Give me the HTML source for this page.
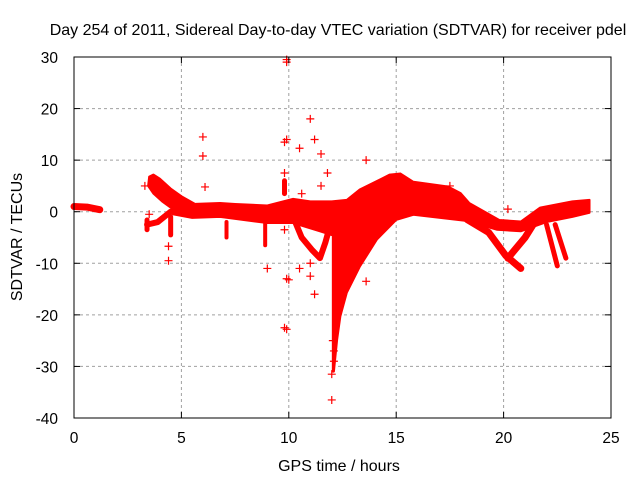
<!DOCTYPE html>
<html><head><meta charset="utf-8"><style>
body{margin:0;background:#fff}
svg{display:block;font-family:"Liberation Sans",sans-serif}
</style></head><body>
<svg id="c" width="640" height="480">
<text x="338" y="35" text-anchor="middle" font-size="16" fill="#000">Day 254 of 2011, Sidereal Day-to-day VTEC variation (SDTVAR) for receiver pdel</text>
<text x="339" y="471" text-anchor="middle" font-size="16">GPS time / hours</text>
<text transform="translate(22,237) rotate(-90)" text-anchor="middle" font-size="16">SDTVAR / TECUs</text>
<g id="grid"></g><g id="marks"></g><g id="axes"></g>
</svg>
<script>
const xTicks=[0,5,10,15,20,25];
const yTicks=[30,20,10,0,-10,-20,-30,-40];
const mainTimes=[4.6,5.5,6.8,7.5,9,10.2,11,12,12.7,13.3,14.7,15.2,15.8,17.4,18,18.4,19.8,20.8,21.7,23.2,24,
 24,23.2,22,20.8,19.7,18.3,15.8,15,14.1,13.3,12.7,12.4,12.25,12.1,12.05,12.05,11.45,10.2,9,6.8,5.5,4.6];
const mainValues=[2.5,1.5,1.7,1.5,1.2,2.5,2,2,2.3,4.3,7.2,7.4,5.8,4.9,3.6,1.7,-1.6,-1.9,0.8,2,2.3,
 -0.2,-1,-2,-3.8,-3.5,-1.8,-0.6,-1.6,-5.4,-10.7,-15.7,-20.3,-24.8,-31,-31,-4.6,-3.8,-2.2,-2.2,-1,-1.2,-0.5];
const armTimes=[3.45,3.5,3.7,4.0,4.5,5,5.6,5.2,4.6,4.1,3.7];
const armValues=[5,6.8,7.2,6.4,4.5,3,1.6,0.8,0.5,2,3.5];
const trackTimes=[
 [0,0.6,1.2],
 [3.4,3.9,4.5],
 [3.4,3.4],
 [4.5,4.5],
 [7.1,7.1],
 [8.9,8.9],
 [10.2,10.6,11.1,11.45,11.7,11.9],
 [9.8,9.8],
 [18.3,19.3,20.1,20.8],
 [20.2,21,21.6],
 [22,22.5],
 [22.4,22.9]
];
const trackValues=[
 [1,0.9,0.4],
 [-2.5,-2,0],
 [-1.6,-3.5],
 [-1,-4.5],
 [-2,-5],
 [-1,-6.5],
 [-1,-5,-7.5,-9,-6,-3],
 [3.5,6],
 [-1.5,-4,-8.5,-11],
 [-9,-5,-1],
 [-2.5,-10.5],
 [-2.5,-9]
];
const trackWidths=[7,6,5,5,4,4,6,5,7,7,5,5];
const outTimes=[6,6,6.1,3.3,4.4,4.4,9,9.8,9.9,9.9,9.9,9.8,9.9,9.9,10,10.5,11,11.2,11.5,11.2,11,10.5,11,12,12,13.6,13.6,17.5,20.2,9.8,11.5,10.6,3.5,9.8,11.8,12.1,12.1,12.05];
const outValues=[14.5,10.8,4.8,5,-6.7,-9.5,-11,13.5,14,29,29.5,-22.5,-22.8,-13,-13.2,12.3,18,14,11.2,-16,-12.5,-11,-10,-36.5,-31.5,10,-13.5,5,0.5,-3.5,5,3.5,-0.5,7.5,7.5,-27,-29,-25];
const X0=74,X1=611,Y0=418,Y1=57;
const sx=v=>X0+(v-0)/(25-0)*(X1-X0);
const sy=v=>Y0-(v+40)/(70)*(Y0-Y1);
const NS='http://www.w3.org/2000/svg';
function mk(t,p,a){const e=document.createElementNS(NS,t);for(const k in a)e.setAttribute(k,a[k]);p.appendChild(e);return e;}
const grid=document.getElementById('grid'),marks=document.getElementById('marks'),axes=document.getElementById('axes');
xTicks.forEach(t=>{
 if(t>0&&t<25){const g=mk('line',grid,{x1:sx(t),x2:sx(t),y1:Y1,y2:Y0,stroke:'#a0a0a0','stroke-dasharray':'3,3'});
 
 }
 const l=mk('text',axes,{x:sx(t),y:Y0+25,'text-anchor':'middle','font-size':15.5});l.textContent=t;
 
 
 mk('line',axes,{x1:sx(t),x2:sx(t),y1:Y0,y2:Y0-6,stroke:'#000'});
 mk('line',axes,{x1:sx(t),x2:sx(t),y1:Y1,y2:Y1+6,stroke:'#000'});
});
yTicks.forEach(t=>{
 if(t>-40&&t<30){const g=mk('line',grid,{x1:X0,x2:X1,y1:sy(t),y2:sy(t),stroke:'#a0a0a0','stroke-dasharray':'3,3'});
 
 }
 const l=mk('text',axes,{x:X0-16,y:sy(t)+6,'text-anchor':'end','font-size':15.5});l.textContent=t;
 
 
 mk('line',axes,{x1:X0,x2:X0+6,y1:sy(t),y2:sy(t),stroke:'#000'});
 mk('line',axes,{x1:X1,x2:X1-6,y1:sy(t),y2:sy(t),stroke:'#000'});
});
const fr=mk('rect',axes,{x:X0,y:Y1,width:X1-X0,height:Y0-Y1,fill:'none',stroke:'#000'});


const mainP=mk('polygon',marks,{points:mainTimes.map((t,i)=>sx(t)+','+sy(mainValues[i])).join(' '),fill:'#f00',stroke:'#f00','stroke-width':2,'stroke-linejoin':'round'});


const armP=mk('polygon',marks,{points:armTimes.map((t,i)=>sx(t)+','+sy(armValues[i])).join(' '),fill:'#f00',stroke:'#f00','stroke-width':2,'stroke-linejoin':'round'});


trackTimes.forEach((ts,j)=>{
 const p=mk('polyline',marks,{points:ts.map((t,i)=>sx(t)+','+sy(trackValues[j][i])).join(' '),fill:'none',stroke:'#f00','stroke-width':trackWidths[j],'stroke-linejoin':'round','stroke-linecap':'round'});
 
 
});
outTimes.forEach((t,i)=>{
 const x=sx(t),y=sy(outValues[i]);
 const p=mk('path',marks,{d:`M${x-4},${y}H${x+4}M${x},${y-4}V${y+4}`,stroke:'#f00','stroke-width':1.2});
 
 
});
</script>
</body></html>
